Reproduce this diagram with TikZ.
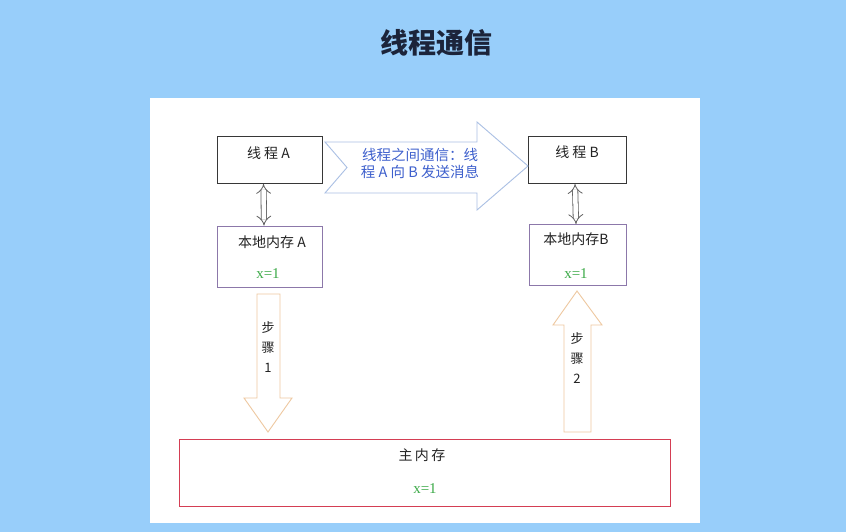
\documentclass[tikz,border=0pt]{standalone}
\usepackage{fontspec}
\setmainfont{Liberation Serif}
\newfontfamily\cjk{Noto Sans CJK SC}
\usetikzlibrary{arrows.meta}
\definecolor{skyblue}{RGB}{152,206,250}
\definecolor{titleink}{RGB}{28,36,58}
\definecolor{boxline}{RGB}{55,55,55}
\definecolor{memline}{RGB}{140,120,170}
\definecolor{mainline}{RGB}{212,62,84}
\definecolor{msgline}{RGB}{170,192,228}
\definecolor{msgink}{RGB}{62,96,205}
\definecolor{stepline}{RGB}{238,200,160}
\definecolor{valink}{RGB}{60,170,72}
\definecolor{wordink}{RGB}{35,35,35}
\begin{document}
\begin{tikzpicture}[x=1pt, y=-1pt,
    threadbox/.style={draw=boxline, line width=0.9pt, minimum width=105pt, minimum height=47pt},
    membox/.style={draw=memline, line width=0.9pt, minimum width=97pt, minimum height=61pt},
    word/.style={font=\cjk\fontsize{14}{16}\selectfont, text=wordink, inner sep=0pt},
    valtext/.style={font=\fontsize{15}{17}\selectfont, text=valink, inner sep=0pt},
    syncarrow/.style={draw=boxline!80, line width=0.8pt, double=white, double distance=4.5pt, {Implies}-{Implies}},
    blockarrow/.style={line width=0.9pt, fill=white, line join=miter}]
    \useasboundingbox (0,0) rectangle (846,532);
    \fill[skyblue] (0,0) rectangle (846,532);
    \fill[white] (150,98) rectangle (700,523);

    \node[font=\cjk\bfseries\fontsize{28}{30}\selectfont, text=titleink] (T) at (436,43) {线程通信};

    \node[threadbox] (A) at (269.5,160) {};
    \node[word] (At) at (268.5,153) {线\ 程\ A};
    \node[threadbox, minimum width=98pt] (B) at (577,160) {};
    \node[word] (Bt) at (577,152) {线\ 程\ B};

    \node[membox, minimum width=105pt] (C) at (270,256.5) {};
    \node[word] (Ct) at (272,242) {本地内存\ A};
    \node[valtext] (Cv) at (268,274) {x=1};
    \node[membox] (D) at (578,255) {};
    \node[word] (Dt) at (576,239) {本地内存B};
    \node[valtext] (Dv) at (576,274) {x=1};

    \node[draw=mainline, line width=0.9pt, minimum width=491pt, minimum height=67pt] (M) at (424.5,472.5) {};
    \node[word] (Mt) at (422,455) {主\,内\,存};
    \node[valtext] (Mv) at (425,489) {x=1};

    \draw[syncarrow] ([xshift=-6pt]A.south) -- ([xshift=-6pt]C.north);
    \draw[syncarrow] ([xshift=-2pt]B.south) -- ([xshift=-2pt]D.north);

    \draw[blockarrow, draw=msgline] (325,142) -- (477,142) -- (477,122) -- (528,166)
        -- (477,210) -- (477,193) -- (325,193) -- (347,167.5) -- cycle;
    \node[word, text=msgink, align=center, font=\cjk\fontsize{14.5}{17.5}\selectfont] (E) at (420,163.5)
        {线程之间通信：线\\程 A 向 B 发送消息};

    \draw[blockarrow, draw=stepline] (257,294) -- (280,294) -- (280,398) -- (292,398)
        -- (268,432) -- (244,398) -- (257,398) -- cycle;
    \node[word, align=center, font=\cjk\fontsize{13}{20}\selectfont] (S1) at (268,347) {步\\骤\\1};

    \draw[blockarrow, draw=stepline] (577,291) -- (602,325) -- (591,325) -- (591,432)
        -- (564,432) -- (564,325) -- (553,325) -- cycle;
    \node[word, align=center, font=\cjk\fontsize{13}{20}\selectfont] (S2) at (577,358) {步\\骤\\2};
\end{tikzpicture}
\end{document}
